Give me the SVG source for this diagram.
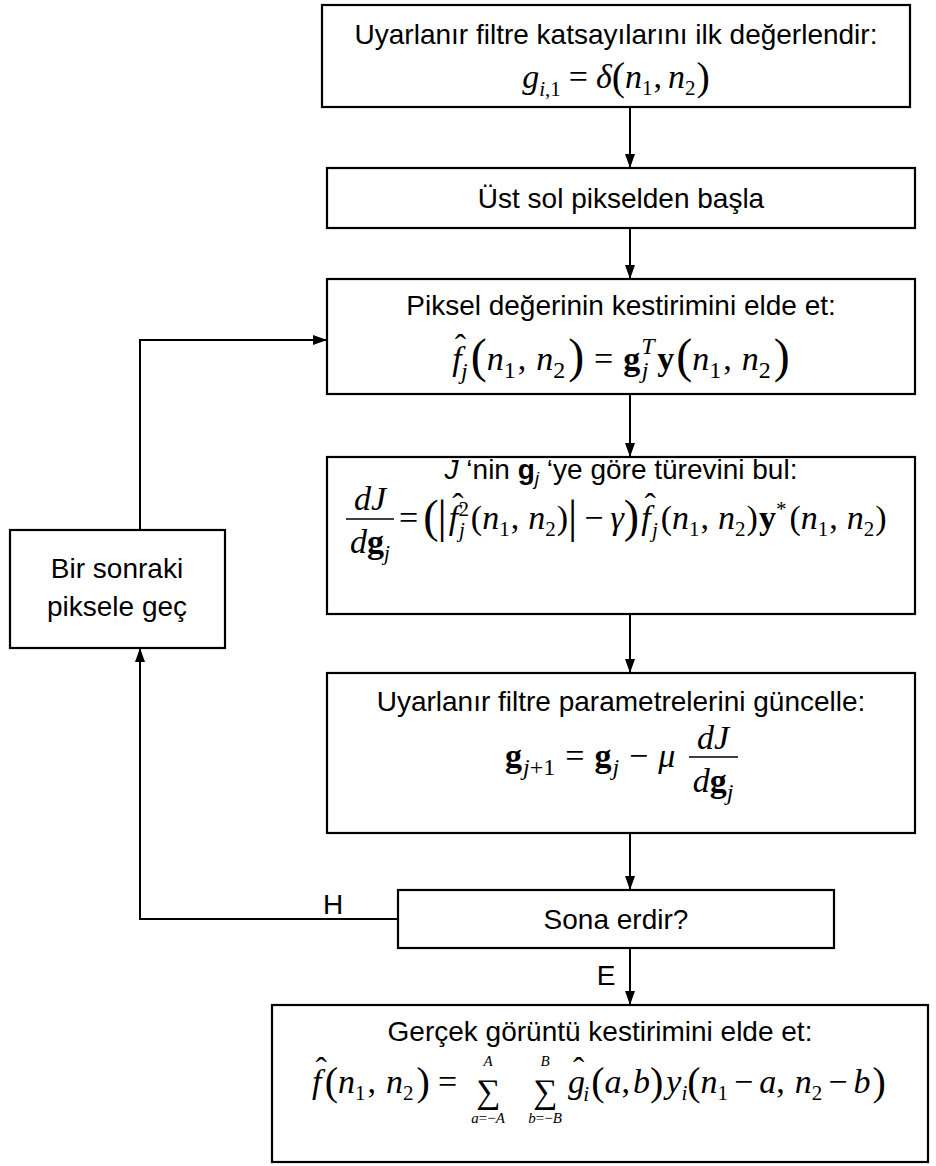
<svg xmlns="http://www.w3.org/2000/svg" width="936" height="1166" viewBox="0 0 936 1166">
  <defs>
    <marker id="arr" markerUnits="userSpaceOnUse" markerWidth="14" markerHeight="10" refX="14" refY="5" orient="auto">
      <path d="M0,0 L14,5 L0,10 z" fill="#000"/>
    </marker>
  </defs>
  <style>
    .box { fill: #fff; stroke: #000; stroke-width: 2.2; }
    .t { font-family: "Liberation Sans", Arial, sans-serif; font-size: 28px; fill: #000; }
    .m { font-family: "Liberation Serif", "Times New Roman", serif; font-size: 34px; fill: #000; }
    .i { font-style: italic; }
    .b { font-weight: bold; }
    .s { font-size: 21px; }
    .s2 { font-size: 24px; }
    .bp { font-size: 40px; }
    .bq { font-size: 46px; }
    .lim { font-family: "Liberation Serif", "Times New Roman", serif; font-size: 15px; fill: #000; }
    .c { fill: none; stroke: #000; stroke-width: 2; }
    .bar { stroke: #000; stroke-width: 1.6; }
  </style>
  <rect width="936" height="1166" fill="#fff"/>

  <!-- connectors -->
  <g id="connectors">
    <line class="c" x1="630" y1="107" x2="630" y2="168" marker-end="url(#arr)"/>
    <line class="c" x1="630" y1="228" x2="630" y2="279" marker-end="url(#arr)"/>
    <line class="c" x1="630" y1="394" x2="630" y2="457" marker-end="url(#arr)"/>
    <line class="c" x1="630" y1="614" x2="630" y2="673" marker-end="url(#arr)"/>
    <line class="c" x1="630" y1="833" x2="630" y2="890" marker-end="url(#arr)"/>
    <line class="c" x1="630" y1="948" x2="630" y2="1005" marker-end="url(#arr)"/>
    <polyline class="c" points="398,919 140,919 140,648" marker-end="url(#arr)"/>
    <polyline class="c" points="140,530 140,340 327,340" marker-end="url(#arr)"/>
    <text class="t" x="333" y="914" text-anchor="middle">H</text>
    <text class="t" x="606" y="985" text-anchor="middle">E</text>
  </g>

  <!-- initialise coefficients -->
  <g id="n-init">
    <rect class="box" x="322" y="5" width="588" height="102"/>
    <text class="t" x="616" y="44" text-anchor="middle">Uyarlanır filtre katsayılarını ilk değerlendir:</text>
    <text class="m" x="616" y="88" text-anchor="middle"><tspan class="i">g</tspan><tspan class="s i" dy="8">i</tspan><tspan class="s">,1</tspan><tspan dx="8" dy="-8">=</tspan><tspan class="i" dx="8">δ</tspan><tspan class="bp" dy="2">(</tspan><tspan class="i" dy="-2">n</tspan><tspan class="s" dy="7">1</tspan><tspan dx="1" dy="-7">,</tspan><tspan class="i" dx="6">n</tspan><tspan class="s" dy="7">2</tspan><tspan class="bp" dx="1" dy="-5">)</tspan></text>
  </g>

  <!-- start pixel -->
  <g id="n-start">
    <rect class="box" x="327" y="168" width="588" height="60"/>
    <text class="t" x="621" y="208" text-anchor="middle">Üst sol pikselden başla</text>
  </g>

  <!-- pixel estimate -->
  <g id="n-estimate">
    <rect class="box" x="327" y="279" width="588" height="115"/>
    <text class="t" x="621" y="315" text-anchor="middle">Piksel değerinin kestirimini elde et:</text>
    <text class="m" x="621" y="370" text-anchor="middle" font-size="40"><tspan class="i">f</tspan><tspan dx="-7" dy="-12">ˆ</tspan><tspan class="s2 i" dx="-5" dy="21">j</tspan><tspan font-size="48" dx="3" dy="-7">(</tspan><tspan class="i" dy="-2">n</tspan><tspan class="s2" dy="8">1</tspan><tspan dx="2" dy="-8">,</tspan><tspan class="i" dx="10">n</tspan><tspan class="s2" dy="8">2</tspan><tspan font-size="48" dx="3" dy="-6">)</tspan><tspan dx="10" dy="-2">=</tspan><tspan class="b" dx="10">g</tspan><tspan class="s2 i" dx="1" dy="-16">T</tspan><tspan class="s2 i" dx="-13" dy="24">j</tspan><tspan class="b" dx="9" dy="-8">y</tspan><tspan font-size="48" dx="2" dy="2">(</tspan><tspan class="i" dy="-2">n</tspan><tspan class="s2" dy="8">1</tspan><tspan dx="2" dy="-8">,</tspan><tspan class="i" dx="10">n</tspan><tspan class="s2" dy="8">2</tspan><tspan font-size="48" dx="3" dy="-6">)</tspan></text>
  </g>

  <!-- gradient -->
  <g id="n-gradient">
    <rect class="box" x="327" y="457" width="588" height="157"/>
    <text class="t" x="621" y="479" text-anchor="middle"><tspan class="i">J</tspan> ‘nin <tspan class="b">g</tspan><tspan class="i" font-size="19" dy="6">j</tspan><tspan dy="-6"> ‘ye göre türevini bul:</tspan></text>
    <text class="m i" x="370" y="510" text-anchor="middle">dJ</text>
    <line class="bar" x1="346" y1="519" x2="394" y2="519"/>
    <text class="m" x="370" y="553" text-anchor="middle"><tspan class="i">d</tspan><tspan class="b">g</tspan><tspan class="s i" dy="7">j</tspan></text>
    <text class="m" x="399" y="529" font-size="35"><tspan>=</tspan><tspan class="bq" dx="5" dy="3">(</tspan><tspan class="bq" dx="-1">|</tspan><tspan class="i" dx="2" dy="-3">f</tspan><tspan dx="-6" dy="-12">ˆ</tspan><tspan class="s" dx="-5" dy="-1">2</tspan><tspan class="s i" dx="-10" dy="21">j</tspan><tspan dx="6" dy="-8">(</tspan><tspan class="i">n</tspan><tspan class="s" dy="7">1</tspan><tspan dx="1" dy="-7">,</tspan><tspan class="i" dx="9">n</tspan><tspan class="s" dy="7">2</tspan><tspan dx="1" dy="-7">)</tspan><tspan class="bq" dy="3">|</tspan><tspan dx="7" dy="-3">−</tspan><tspan class="i" dx="7">γ</tspan><tspan class="bq" dy="3">)</tspan><tspan class="i" dx="2" dy="-3">f</tspan><tspan dx="-6" dy="-12">ˆ</tspan><tspan class="s i" dx="-4" dy="20">j</tspan><tspan dx="3" dy="-8">(</tspan><tspan class="i">n</tspan><tspan class="s" dy="7">1</tspan><tspan dx="1" dy="-7">,</tspan><tspan class="i" dx="9">n</tspan><tspan class="s" dy="7">2</tspan><tspan dx="1" dy="-7">)</tspan><tspan class="b" dx="1">y</tspan><tspan class="s" dy="-13">*</tspan><tspan dx="3" dy="13">(</tspan><tspan class="i">n</tspan><tspan class="s" dy="7">1</tspan><tspan dx="1" dy="-7">,</tspan><tspan class="i" dx="9">n</tspan><tspan class="s" dy="7">2</tspan><tspan dx="1" dy="-7">)</tspan></text>
  </g>

  <!-- parameter update -->
  <g id="n-update">
    <rect class="box" x="327" y="673" width="588" height="160"/>
    <text class="t" x="621" y="711" text-anchor="middle">Uyarlanır filtre parametrelerini güncelle:</text>
    <text class="m" x="505" y="767" font-size="38"><tspan class="b">g</tspan><tspan class="s2 i" dx="1" dy="8">j</tspan><tspan class="s2">+1</tspan><tspan dx="10" dy="-8">=</tspan><tspan class="b" dx="10">g</tspan><tspan class="s2 i" dx="1" dy="8">j</tspan><tspan dx="10" dy="-8">−</tspan><tspan class="i" dx="10">μ</tspan></text>
    <text class="m i" x="713" y="749" text-anchor="middle" font-size="38">dJ</text>
    <line class="bar" x1="689" y1="757" x2="738" y2="757"/>
    <text class="m" x="713" y="792" text-anchor="middle" font-size="38"><tspan class="i">d</tspan><tspan class="b">g</tspan><tspan class="s2 i" dy="8">j</tspan></text>
  </g>

  <!-- stop test -->
  <g id="n-stop">
    <rect class="box" x="398" y="890" width="436" height="58"/>
    <text class="t" x="616" y="929" text-anchor="middle">Sona erdir?</text>
  </g>

  <!-- next pixel -->
  <g id="n-next">
    <rect class="box" x="10" y="530" width="215" height="118"/>
    <text class="t" x="117" y="578" text-anchor="middle">Bir sonraki</text>
    <text class="t" x="117" y="616" text-anchor="middle">piksele geç</text>
  </g>

  <!-- final image estimate -->
  <g id="n-final">
    <rect class="box" x="272" y="1005" width="656" height="157"/>
    <text class="t" x="600" y="1041" text-anchor="middle">Gerçek görüntü kestirimini elde et:</text>
    <text class="m" x="312" y="1093" font-size="36"><tspan class="i">f</tspan><tspan dx="-6" dy="-12">ˆ</tspan><tspan class="bp" dx="-2" dy="14">(</tspan><tspan class="i" dy="-2">n</tspan><tspan class="s" dy="7">1</tspan><tspan dx="2" dy="-7">,</tspan><tspan class="i" dx="10">n</tspan><tspan class="s" dy="7">2</tspan><tspan class="bp" dx="3" dy="-5">)</tspan><tspan dx="8" dy="-2">=</tspan></text>
    <text class="m" x="488" y="1103" text-anchor="middle" font-size="48">∑</text>
    <text class="lim i" x="488" y="1066" text-anchor="middle">A</text>
    <text class="lim" x="488" y="1123" text-anchor="middle"><tspan class="i">a</tspan>=−<tspan class="i">A</tspan></text>
    <text class="m" x="545" y="1103" text-anchor="middle" font-size="48">∑</text>
    <text class="lim i" x="545" y="1066" text-anchor="middle">B</text>
    <text class="lim" x="545" y="1123" text-anchor="middle"><tspan class="i">b</tspan>=−<tspan class="i">B</tspan></text>
    <text class="m" x="568" y="1093" font-size="36"><tspan class="i">g</tspan><tspan dx="-12" dy="-12">ˆ</tspan><tspan class="s i" dx="-1" dy="20">i</tspan><tspan class="bp" dx="2" dy="-6">(</tspan><tspan class="i" dy="-2">a</tspan><tspan>,</tspan><tspan class="i" dx="3">b</tspan><tspan class="bp" dy="2">)</tspan><tspan class="i" dx="3" dy="-2">y</tspan><tspan class="s i" dy="7">i</tspan><tspan class="bp" dy="-5">(</tspan><tspan class="i" dy="-2">n</tspan><tspan class="s" dy="7">1</tspan><tspan dx="6" dy="-7">−</tspan><tspan class="i" dx="6">a</tspan><tspan>,</tspan><tspan class="i" dx="10">n</tspan><tspan class="s" dy="7">2</tspan><tspan dx="6" dy="-7">−</tspan><tspan class="i" dx="6">b</tspan><tspan class="bp" dx="2" dy="2">)</tspan></text>
  </g>
</svg>
